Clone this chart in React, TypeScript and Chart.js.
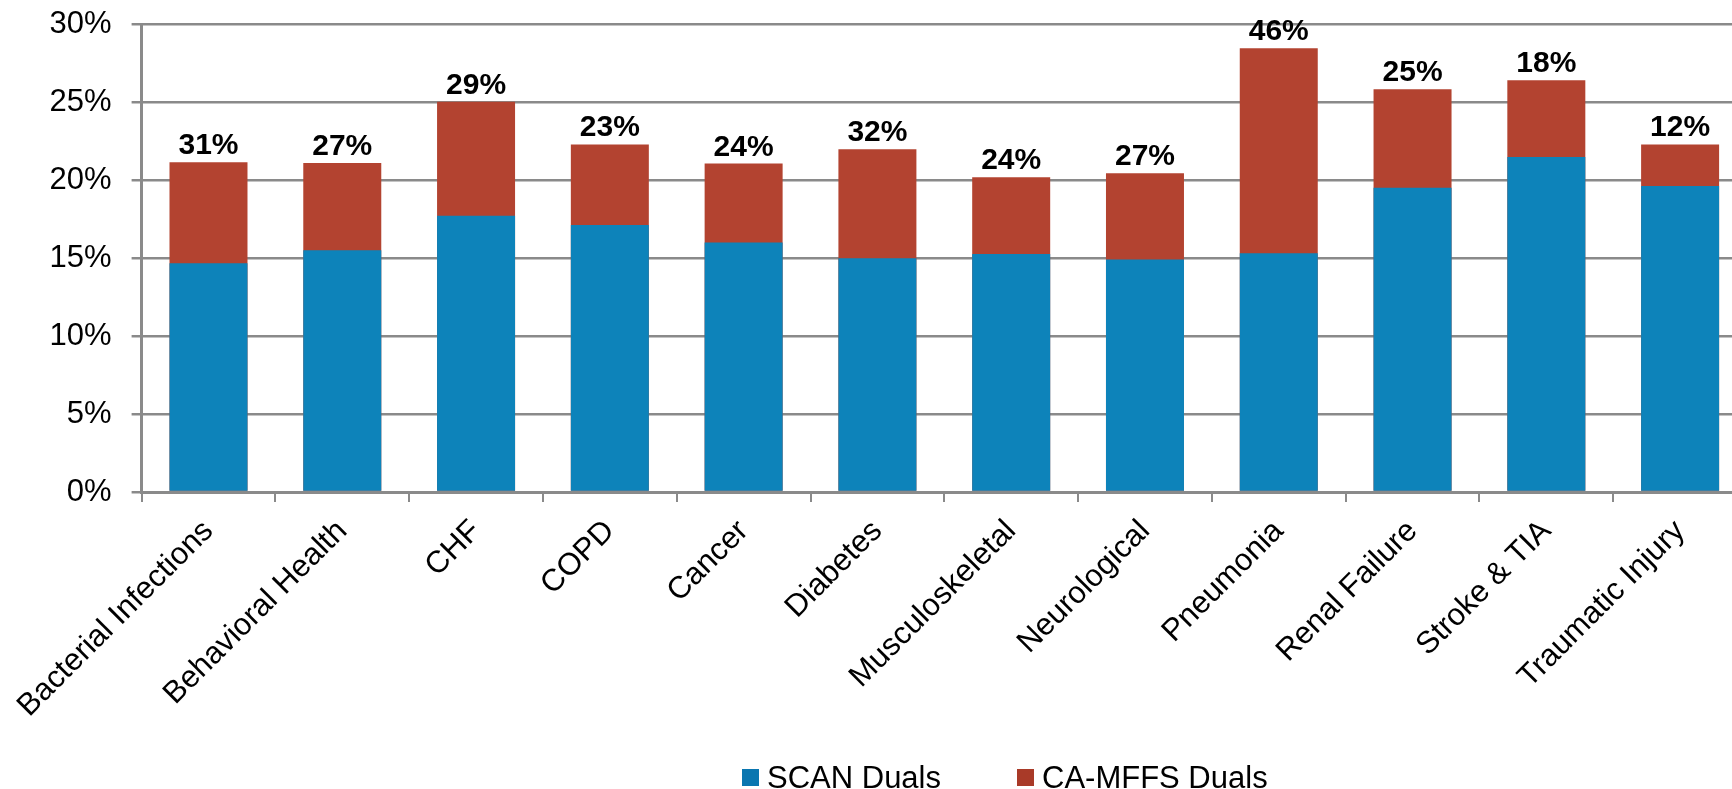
import React, { useEffect, useRef } from "react";
import { Chart, registerables } from "chart.js";

Chart.register(...registerables);

const categories = [
  "Bacterial Infections",
  "Behavioral Health",
  "CHF",
  "COPD",
  "Cancer",
  "Diabetes",
  "Musculoskeletal",
  "Neurological",
  "Pneumonia",
  "Renal Failure",
  "Stroke & TIA",
  "Traumatic Injury",
];
const scanDuals = [14.66, 15.5, 17.71, 17.12, 16.0, 14.98, 15.26, 14.91, 15.3, 19.51, 21.47, 19.62];
const caMffsDuals = [21.13, 21.09, 25.02, 22.28, 21.05, 21.97, 20.17, 20.43, 28.44, 25.81, 26.39, 22.28];
const reductionLabels = ["31%", "27%", "29%", "23%", "24%", "32%", "24%", "27%", "46%", "25%", "18%", "12%"];
const seriesNames = ["SCAN Duals", "CA-MFFS Duals"];
const seriesColors = ["#0D83BA", "#B34330"];
const legendColors = ["#0A76B0", "#A93A28"];

const FONT = "'Liberation Sans', Arial, sans-serif";
const GRID = "#8a8a8a";

const overlayPlugin = {
  id: "overlay",
  afterDatasetsDraw(chart: any) {
    const ctx = chart.ctx;
    const meta = chart.getDatasetMeta(1);
    ctx.save();
    ctx.font = `bold 30px ${FONT}`;
    ctx.fillStyle = "#000";
    ctx.textAlign = "center";
    ctx.textBaseline = "alphabetic";
    meta.data.forEach((bar: any, i: number) => {
      ctx.fillText(reductionLabels[i], bar.x, bar.y - 8);
    });
    ctx.restore();
  },
  afterDraw(chart: any) {
    const ctx = chart.ctx;
    ctx.save();
    ctx.font = `31px ${FONT}`;
    ctx.textAlign = "left";
    ctx.textBaseline = "alphabetic";
    const boxX = [742, 1017];
    seriesNames.forEach((name, i) => {
      ctx.fillStyle = legendColors[i];
      ctx.fillRect(boxX[i], 769, 17, 17);
      ctx.fillStyle = "#000";
      ctx.fillText(name, boxX[i] + 25, 788);
    });
    ctx.restore();
  },
};

export default function App() {
  const ref = useRef<HTMLCanvasElement | null>(null);

  useEffect(() => {
    if (!ref.current) return;
    const chart = new Chart(ref.current, {
      type: "bar",
      data: {
        labels: categories,
        datasets: [
          {
            label: seriesNames[0],
            data: scanDuals,
            backgroundColor: seriesColors[0],
            grouped: false,
            order: 0,
            barPercentage: 0.583,
            categoryPercentage: 1,
          } as any,
          {
            label: seriesNames[1],
            data: caMffsDuals,
            backgroundColor: seriesColors[1],
            grouped: false,
            order: 1,
            barPercentage: 0.583,
            categoryPercentage: 1,
          } as any,
        ],
      },
      options: {
        responsive: false,
        animation: false,
        devicePixelRatio: 1,
        layout: { padding: { top: 24, right: 13, left: 0, bottom: 0 } },
        plugins: {
          legend: { display: false },
          tooltip: { enabled: false },
        },
        scales: {
          x: {
            grid: {
              display: true,
              drawOnChartArea: false,
              drawTicks: true,
              tickLength: 10,
              offset: true,
              color: GRID,
              lineWidth: 2,
            },
            border: { color: GRID, width: 3 },
            ticks: {
              minRotation: 45,
              maxRotation: 45,
              autoSkip: false,
              padding: 11,
              color: "#000",
              font: { family: FONT, size: 31 },
            },
            afterFit(scale: any) {
              scale.height = 297;
              scale.paddingLeft = 0;
              scale.paddingRight = 0;
            },
          },
          y: {
            min: 0,
            max: 30,
            ticks: {
              stepSize: 5,
              padding: 20,
              color: "#000",
              font: { family: FONT, size: 31 },
              callback: (v: any) => `${v}%`,
            },
            grid: {
              color: GRID,
              lineWidth: 2.5,
              drawTicks: true,
              tickLength: 10,
            },
            border: { color: GRID, width: 3 },
            afterFit(scale: any) {
              scale.width = 141.6;
              scale.paddingTop = 0;
              scale.paddingBottom = 0;
            },
          },
        },
      },
      plugins: [overlayPlugin],
    });
    return () => chart.destroy();
  }, []);

  return (
    <div
      style={{
        position: "fixed",
        left: 0,
        top: 0,
        width: 1732,
        height: 789,
        overflow: "hidden",
        background: "#fff",
      }}
    >
      <canvas ref={ref} width={1760} height={789} style={{ display: "block" }} />
    </div>
  );
}
